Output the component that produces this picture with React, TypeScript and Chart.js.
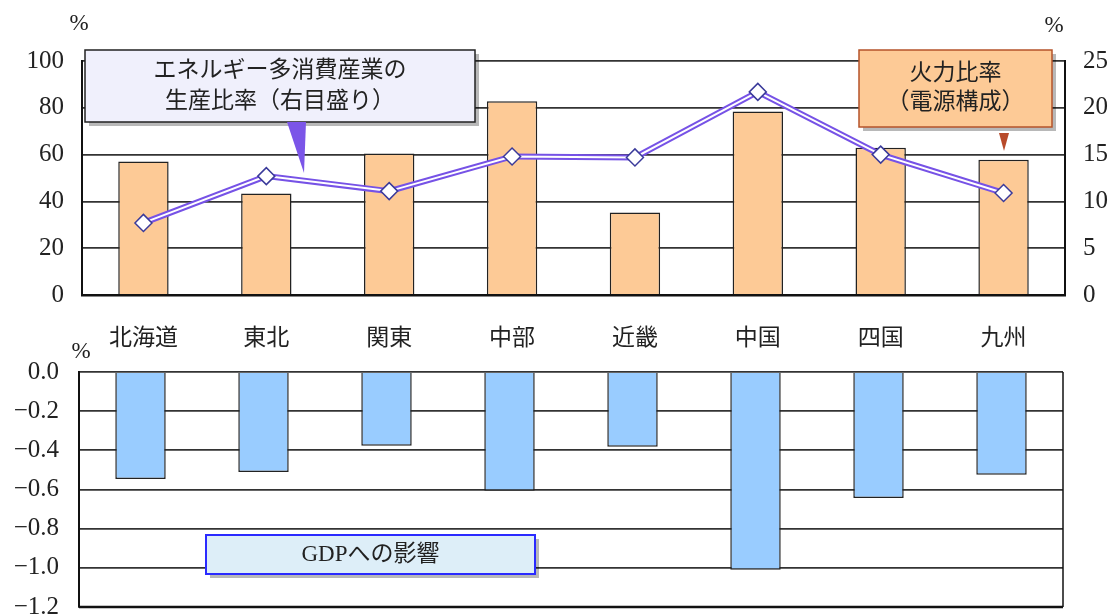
import React, { useEffect, useRef } from 'react';
import { Chart, registerables } from 'chart.js';

Chart.register(...registerables);

const categories = ['北海道', '東北', '関東', '中部', '近畿', '中国', '四国', '九州'];
const thermalShare = [57.1, 43.4, 60.5, 82.8, 35.3, 78.4, 62.9, 57.8];
const energyIndustryShare = [7.7, 12.7, 11.1, 14.8, 14.7, 21.7, 15.0, 10.9];
const gdpImpact = [-0.547, -0.51, -0.376, -0.606, -0.382, -1.01, -0.644, -0.525];

const energyLabel = ['エネルギー多消費産業の', '生産比率（右目盛り）'];
const thermalLabel = ['火力比率', '（電源構成）'];
const gdpLabel = ['GDPへの影響'];

const FONT = "'Liberation Serif', 'Noto Sans CJK JP', serif";
const TEXT = '#222';

function drawBox(ctx: CanvasRenderingContext2D, x: number, y: number, w: number, h: number,
  fill: string, stroke: string, lw: number, lines: string[], size: number, lineGap: number) {
  ctx.save();
  ctx.fillStyle = 'rgba(0,0,0,0.28)';
  ctx.fillRect(x + 4, y + 4, w, h);
  ctx.fillStyle = fill;
  ctx.fillRect(x, y, w, h);
  ctx.strokeStyle = stroke;
  ctx.lineWidth = lw;
  ctx.strokeRect(x, y, w, h);
  ctx.fillStyle = TEXT;
  ctx.font = `${size}px ${FONT}`;
  ctx.textAlign = 'center';
  ctx.textBaseline = 'middle';
  const cx = x + w / 2;
  const total = (lines.length - 1) * lineGap;
  lines.forEach((l, i) => ctx.fillText(l, cx, y + h / 2 - total / 2 + i * lineGap));
  ctx.restore();
}

function tri(ctx: CanvasRenderingContext2D, pts: number[][], color: string) {
  ctx.save();
  ctx.fillStyle = color;
  ctx.beginPath();
  ctx.moveTo(pts[0][0], pts[0][1]);
  ctx.lineTo(pts[1][0], pts[1][1]);
  ctx.lineTo(pts[2][0], pts[2][1]);
  ctx.closePath();
  ctx.fill();
  ctx.restore();
}

const topOverlay = {
  id: 'topOverlay',
  afterDraw(chart: any) {
    const ctx = chart.ctx as CanvasRenderingContext2D;
    ctx.save();
    ctx.fillStyle = TEXT;
    ctx.font = `23px ${FONT}`;
    ctx.textAlign = 'center';
    ctx.textBaseline = 'middle';
    ctx.fillText('%', 79, 24);
    ctx.fillText('%', 1054, 26);
    ctx.restore();
    drawBox(ctx, 85, 50, 390, 72, '#f0f0fc', '#222', 1.5, energyLabel, 23, 31);
    tri(ctx, [[287, 122], [306, 122], [304, 173]], '#7b55e8');
    drawBox(ctx, 859, 50, 193, 77, '#fdca96', '#b5532a', 1.5, thermalLabel, 23, 29);
    tri(ctx, [[999, 133], [1009, 133], [1004, 151]], '#b84a2a');
  },
};

const bottomOverlay = {
  id: 'bottomOverlay',
  afterDraw(chart: any) {
    const ctx = chart.ctx as CanvasRenderingContext2D;
    const a = chart.chartArea;
    ctx.save();
    ctx.strokeStyle = '#111';
    ctx.lineWidth = 1.5;
    ctx.beginPath();
    ctx.moveTo(a.right, a.top);
    ctx.lineTo(a.right, a.bottom);
    ctx.stroke();
    ctx.lineWidth = 2.5;
    ctx.beginPath();
    ctx.moveTo(a.left, a.bottom);
    ctx.lineTo(a.right, a.bottom);
    ctx.stroke();
    ctx.fillStyle = TEXT;
    ctx.font = `23px ${FONT}`;
    ctx.textAlign = 'center';
    ctx.textBaseline = 'middle';
    ctx.fillText('%', 81, 12);
    ctx.restore();
    drawBox(ctx, 206, 535 - 340, 329, 39, '#ddeef8', '#2a2aff', 2, gdpLabel, 23, 0);
  },
};

const fixV = (w: number) => (s: any) => {
  s.width = w;
  s.paddingTop = 0;
  s.paddingBottom = 0;
};

export default function App() {
  const topRef = useRef<HTMLCanvasElement>(null);
  const botRef = useRef<HTMLCanvasElement>(null);

  useEffect(() => {
    const tickFont = { family: FONT, size: 25 };
    const catFont = { family: FONT, size: 23 };
    const top = new Chart(topRef.current!, {
      type: 'bar',
      data: {
        labels: categories,
        datasets: [
          {
            type: 'bar',
            data: thermalShare,
            backgroundColor: '#fdca96',
            borderColor: '#222',
            borderWidth: 1.5,
            barPercentage: 0.41,
            categoryPercentage: 1,
            yAxisID: 'y',
            order: 3,
          },
          {
            type: 'line',
            data: energyIndustryShare,
            borderColor: '#7652e6',
            borderWidth: 6,
            pointRadius: 0,
            yAxisID: 'y2',
            order: 2,
          },
          {
            type: 'line',
            data: energyIndustryShare,
            borderColor: '#ffffff',
            borderWidth: 2,
            pointStyle: 'rectRot',
            pointRadius: 8.5,
            pointBackgroundColor: '#ffffff',
            pointBorderColor: '#3a3a9a',
            pointBorderWidth: 1.5,
            yAxisID: 'y2',
            order: 1,
          } as any,
        ],
      },
      options: {
        responsive: false,
        animation: false,
        devicePixelRatio: 1,
        layout: { padding: { top: 61, left: 0, right: 0, bottom: 0 } },
        plugins: { legend: { display: false }, tooltip: { enabled: false } },
        scales: {
          x: {
            grid: { display: false, drawTicks: false },
            border: { display: true, color: '#111', width: 2.5 },
            ticks: { font: catFont, color: TEXT, padding: 30 },
            afterFit: (s: any) => { s.height = 65; s.paddingLeft = 0; s.paddingRight = 0; },
          },
          y: {
            position: 'left',
            min: 0,
            max: 100,
            ticks: { stepSize: 20, font: tickFont, color: TEXT, padding: 18 },
            grid: { color: '#333', lineWidth: 1.8, drawTicks: false },
            border: { display: true, color: '#111', width: 2 },
            afterFit: fixV(82),
          },
          y2: {
            position: 'right',
            min: 0,
            max: 25,
            ticks: { stepSize: 5, font: tickFont, color: TEXT, padding: 18 },
            grid: { display: false, drawTicks: false },
            border: { display: true, color: '#111', width: 2 },
            afterFit: fixV(48),
          },
        },
      },
      plugins: [topOverlay],
    });

    const bot = new Chart(botRef.current!, {
      type: 'bar',
      data: {
        labels: categories,
        datasets: [
          {
            data: gdpImpact,
            backgroundColor: '#99ccff',
            borderColor: '#222',
            borderWidth: 1.5,
            barPercentage: 0.41,
            categoryPercentage: 1,
          },
        ],
      },
      options: {
        responsive: false,
        animation: false,
        devicePixelRatio: 1,
        layout: { padding: { top: 32, left: 0, right: 50, bottom: 33 } },
        plugins: { legend: { display: false }, tooltip: { enabled: false } },
        scales: {
          x: { display: false },
          y: {
            min: -1.2,
            max: 0,
            ticks: {
              stepSize: 0.2,
              font: tickFont,
              color: TEXT,
              padding: 20,
              callback: (v: any) => Number(v).toFixed(1).replace('-', '−'),
            },
            grid: { color: '#333', lineWidth: 1.8, drawTicks: false },
            border: { display: true, color: '#111', width: 2 },
            afterFit: fixV(79),
          },
        },
      },
      plugins: [bottomOverlay],
    });

    return () => {
      top.destroy();
      bot.destroy();
    };
  }, []);

  return (
    <div style={{ position: 'absolute', left: 0, top: 0, width: 1113, height: 614, overflow: 'hidden', background: '#fff' }}>
      <canvas ref={topRef} width={1113} height={360} style={{ position: 'absolute', left: 0, top: 0, width: 1113, height: 360 }} />
      <canvas ref={botRef} width={1113} height={300} style={{ position: 'absolute', left: 0, top: 340, width: 1113, height: 300 }} />
    </div>
  );
}
